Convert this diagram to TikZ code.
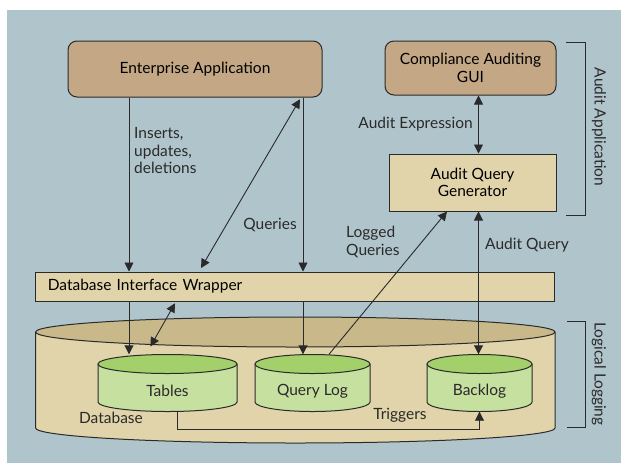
\documentclass[tikz,border=0pt]{standalone}
\usepackage{fontspec}
\setmainfont{Lato}
\usepackage{tikz}
\usetikzlibrary{positioning,arrows.meta,calc}

\definecolor{panel}{HTML}{B0C4CB}
\definecolor{ink}{HTML}{2A2A2A}
\definecolor{tanbox}{HTML}{C4A885}
\definecolor{paletan}{HTML}{E1D4AA}
\definecolor{dbtop}{HTML}{C9B98A}
\definecolor{greentop}{HTML}{A3D06A}
\definecolor{greenbody}{HTML}{C6E0A0}

% drum: name, cx, top y, bottom y, rx, ry, end colour, body colour
\newcommand{\drum}[8]{%
  \fill[#8] (#2-#5,#3) -- (#2-#5,#4) arc[start angle=180,end angle=360,x radius=#5pt,y radius=#6pt] -- (#2+#5,#3) -- cycle;
  \draw[ink, line width=1pt] (#2-#5,#3) -- (#2-#5,#4) arc[start angle=180,end angle=360,x radius=#5pt,y radius=#6pt] -- (#2+#5,#3);
  \draw[ink, line width=1pt, fill=#7] (#2,#3) ellipse[x radius=#5pt,y radius=#6pt];
  \node[inner sep=0pt, minimum width={2*#5*1pt}, minimum height={(#4-#3+2*#6)*1pt}] (#1) at (#2,{(#3+#4)/2}) {};
}

\begin{document}
\begin{tikzpicture}[x=1pt,y=-1pt,
  font=\fontsize{15.5}{17.5}\selectfont,
  app/.style={draw=ink, rounded corners=9pt, fill=tanbox, line width=1pt, align=center, inner sep=0pt},
  pane/.style={draw=ink, fill=paletan, line width=1pt, align=center, inner sep=0pt},
  arr/.style={-{Triangle[length=9pt,width=9pt]}, line width=0.9pt, draw=ink},
  dbl/.style={{Triangle[length=9pt,width=9pt]}-{Triangle[length=9pt,width=9pt]}, line width=0.9pt, draw=ink},
  txt/.style={inner sep=0pt, align=left, text=ink},
  brk/.style={line width=0.9pt, draw=ink}
]
\useasboundingbox (0,0) rectangle (621,467);
\fill[panel] (7,10) rectangle (621,463);

% Logical logging layer
\drum{db}{295.3}{332}{428}{259.7}{15}{dbtop}{paletan}
\drum{tabs}{167.5}{364}{402}{69.5}{9.5}{greentop}{greenbody}
\drum{qlog}{312.5}{364}{402}{57.5}{9.5}{greentop}{greenbody}
\drum{blog}{479.5}{364}{402}{52.5}{9.5}{greentop}{greenbody}
\node[txt] (tabsT) at (167.5,391) {Tables};
\node[txt] (qlogT) at (312.5,391) {Query Log};
\node[txt] (blogT) at (479.5,391) {Backlog};
\node[txt] (dbT) at (111,418) {Database};

% Application layer
\node[pane, text width=495pt, inner xsep=12pt, minimum height=29pt, align=left] (wrap) at (295.3,286.5) {Database Interface Wrapper};
\node[app, minimum width=254pt, minimum height=56pt] (ent) at (195,69) {Enterprise Application};
\node[app, minimum width=171pt, minimum height=54pt] (gui) at (470.5,68) {Compliance Auditing\\GUI};
\node[pane, minimum width=167pt, minimum height=57pt] (gen) at (472.5,182.5) {Audit Query\\Generator};

% columns for the connectors
\coordinate (insX) at (129,0);
\coordinate (qryX) at (303,0);
\coordinate (upX) at (301,0);
\coordinate (dnX) at (199,0);
\coordinate (upX2) at (176,0);
\coordinate (dnX2) at (146,0);
\coordinate (logX) at (329,0);
\coordinate (genX) at (447,0);
\coordinate (audX) at (478.5,0);
\coordinate (trgX) at (177,0);
\coordinate (trg) at (300,429);

\draw[arr] (ent.south -| insX) -- (wrap.north -| insX);
\draw[arr] (wrap.south -| insX) -- (tabs.north -| insX);
\draw[arr] (ent.south -| qryX) -- (wrap.north -| qryX);
\draw[arr] (wrap.south -| qryX) -- (qlog.north -| qryX);
\draw[dbl, shorten <=2pt, shorten >=4pt] (ent.south -| upX) -- (wrap.north -| dnX);
\draw[dbl, shorten <=2pt, shorten >=9pt] (wrap.south -| upX2) -- (tabs.north -| dnX2);
\draw[arr] (qlog.north -| logX) -- (gen.south -| genX);
\draw[dbl] (gen.south -| audX) -- (blog.north -| audX);
\draw[dbl] (gui.south -| audX) -- (gen.north -| audX);
\draw[arr] (tabs.south -| trgX) |- (trg) -| (blog.south);

% labels
\node[txt, anchor=west] (insL) at (134,151) {Inserts,\\updates,\\deletions};
\node[txt] (qryL) at (270,225) {Queries};
\node[txt, anchor=west] (logL) at (346,242) {Logged\\Queries};
\node[txt, anchor=west] (audL) at (485,245) {Audit Query};
\node[txt, anchor=east] (expL) at (473,124) {Audit Expression};
\node[txt] (trgL) at (400,415) {Triggers};

% brackets
\draw[brk] (566,42) -- (585,42) -- (585,215) -- (566,215);
\draw[brk] (567,321) -- (585,321) -- (585,427) -- (567,427);
\node[txt, rotate=-90] (appL) at (599,127) {Audit Application};
\node[txt, rotate=-90] (logicL) at (599,374) {Logical Logging};
\end{tikzpicture}
\end{document}
